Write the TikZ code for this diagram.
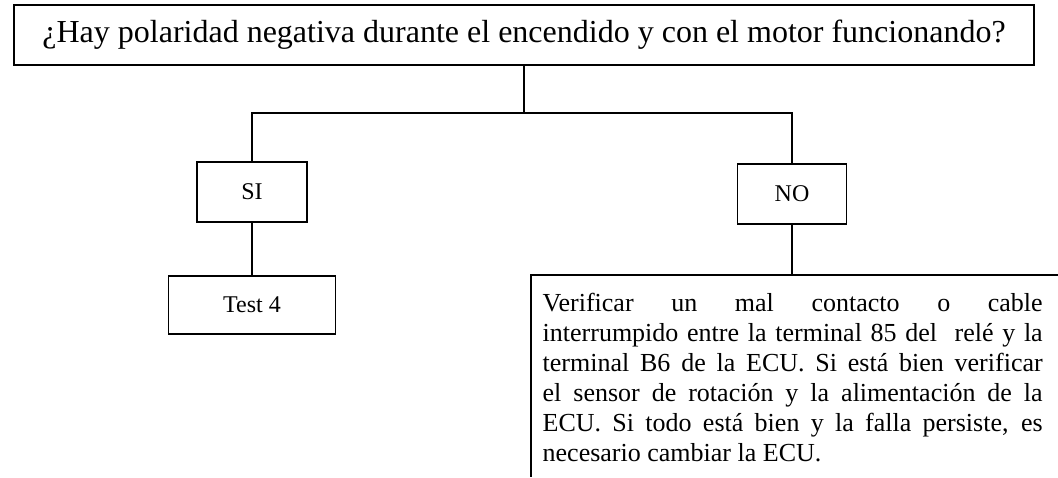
\documentclass[tikz,border=0pt]{standalone}
\usepackage{fontspec}
\setmainfont{Liberation Serif}
\begin{document}
\begin{tikzpicture}[x=1pt,y=-1pt,
  line width=1.4pt,
  box/.style={draw, inner sep=0pt, font=\fontsize{24pt}{28pt}\selectfont},
  ttl/.style={draw, inner sep=0pt, font=\fontsize{32pt}{36pt}\selectfont},
  body/.style={inner sep=0pt, text width=500pt, align=justify, font=\fontsize{26pt}{30pt}\selectfont}]
\useasboundingbox (0,0) rectangle (1058,477);
\node[ttl, minimum width=1020pt, minimum height=60pt] (q) at (524,35) {¿Hay polaridad negativa durante el encendido y con el motor funcionando?};
\node[box, minimum width=110pt, minimum height=60pt] (si) at (252,192) {SI};
\node[box, minimum width=109pt, minimum height=60pt] (no) at (792,194) {NO};
\node[box, minimum width=167pt, minimum height=58pt] (t4) at (252,305) {Test 4};
\coordinate (j) at (524,113);
\coordinate (bt) at (531,275);
\coordinate (br) at (1058,275);
\coordinate (bb) at (531,477);
\node[body, anchor=north west] (txt) at (542,291) {\rule{0pt}{20pt}Verificar un mal contacto o cable\linebreak interrumpido entre la terminal 85 del \ relé y la\linebreak terminal B6 de la ECU. Si está bien verificar\linebreak el sensor de rotación y la alimentación de la\linebreak ECU. Si todo está bien y la falla persiste, es\linebreak necesario cambiar la ECU.};
\draw (q.south) -- (j);
\draw (si.north) |- (j) -| (no.north);
\draw (si.south) -- (t4.north);
\draw (no.south) -- (no.south |- bt);
\draw (br) -- (bt) -- (bb);
\end{tikzpicture}
\end{document}
